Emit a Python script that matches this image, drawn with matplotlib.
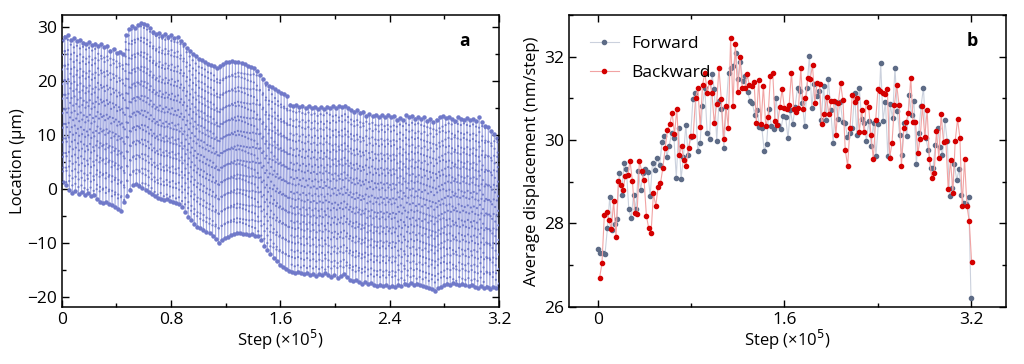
import numpy as np
import matplotlib
matplotlib.use("Agg")
import matplotlib.pyplot as plt
from matplotlib.collections import LineCollection
from matplotlib.ticker import MultipleLocator

plt.rcParams['font.family'] = ['Open Sans', 'DejaVu Sans']
plt.rcParams['font.size'] = 12

# panel a: turning points of each sweep (µm), one top and one bottom per cycle
top_um = [27.5, 28.2, 28.4, 27.6, 27.9, 27.3, 27.6, 27.1, 26.8, 27.2, 26.6, 26.9, 26.5, 26.8, 26.2, 26.5,
          25.6, 25.9, 25.2, 25.4, 24.9, 28.5, 29.6, 30.1, 29.8, 30.4, 30.7, 30.6, 30.3, 29.8, 29.1, 28.6,
          28.9, 28.3, 28.6, 28.2, 28.4, 27.9, 28.1, 27.4, 26.8, 26.1, 25.6, 25.0, 24.6, 24.1, 23.8, 23.5,
          23.2, 22.9, 22.7, 22.4, 22.8, 23.1, 23.4, 23.5, 23.6, 23.4, 23.5, 23.3, 23.1, 22.8, 22.6, 22.4,
          21.8, 21.0, 20.4, 19.6, 19.0, 18.8, 18.4, 18.1, 17.8, 17.6, 17.2, 15.6, 15.3, 15.5, 15.1, 15.4,
          15.0, 15.3, 14.9, 15.2, 14.8, 15.1, 14.7, 15.2, 14.9, 15.3, 15.0, 15.3, 15.1, 15.4, 15.0, 14.6,
          14.3, 14.5, 14.1, 14.3, 13.5, 13.8, 13.4, 13.7, 13.3, 13.6, 13.2, 13.7, 13.3, 13.5, 12.8, 13.1,
          12.7, 13.6, 13.3, 13.5, 13.0, 13.3, 12.9, 13.2, 12.6, 12.9, 12.3, 12.8, 13.2, 13.4, 13.1, 13.3,
          12.9, 12.6, 13.3, 13.0, 12.8, 13.1, 12.7, 12.9, 12.6, 13.2, 12.4, 11.6, 11.4, 10.6, 10.1, 9.4]
bottom_um = [1.2, 0.6, -0.3, -0.8, -0.5, -1.0, -0.7, -1.2, -0.9, -1.4, -1.1, -2.0, -2.4, -2.7, -2.5, -2.9,
             -3.1, -3.4, -3.8, -4.1, -2.5, -1.3, -0.2, 0.6, 0.8, 0.4, 0.1, -0.2, -0.6, -1.0, -1.4, -1.7,
             -1.9, -2.1, -2.0, -2.3, -2.5, -2.6, -2.9, -3.4, -4.4, -5.2, -5.9, -6.5, -7.1, -7.3, -7.6, -8.1,
             -8.3, -8.7, -9.4, -10.1, -9.6, -9.2, -8.9, -8.6, -8.4, -8.2, -8.3, -8.4, -8.5, -8.6, -8.5, -8.7,
             -8.8, -9.6, -10.6, -11.4, -12.2, -12.9, -13.5, -14.1, -14.5, -14.9, -15.2, -15.4, -15.6, -15.4, -15.7, -15.9,
             -15.6, -16.0, -15.8, -16.2, -15.9, -16.1, -15.7, -16.0, -16.3, -16.1, -16.5, -16.2, -15.9, -16.4, -16.9, -17.2,
             -17.0, -17.4, -17.6, -17.3, -17.7, -17.5, -17.9, -18.0, -17.8, -18.1, -17.9, -18.2, -18.0, -18.2, -17.8, -18.1,
             -17.6, -17.9, -17.5, -17.8, -17.6, -17.9, -18.1, -18.3, -18.5, -18.7, -18.9, -18.5, -18.2, -17.9, -17.6, -17.8,
             -17.5, -17.7, -17.9, -17.6, -17.9, -18.1, -17.8, -18.2, -18.4, -18.1, -18.5, -18.3, -18.6, -18.2, -18.4, -17.8]

# panel b: average displacement per sweep (nm/step)
forward = [27.38, 27.30, 27.28, 27.26, 27.88, 28.64, 27.84, 27.98, 28.10, 29.20, 28.67, 29.44, 29.30, 28.35, 28.12,
           28.68, 28.34, 29.26, 28.80, 29.20, 29.30, 29.24, 28.66, 29.46, 29.28, 29.57, 29.40, 29.96, 30.10, 29.60,
           29.86, 30.16, 30.06, 29.10, 30.28, 29.06, 29.60, 30.36, 29.64, 30.08, 30.98, 31.14, 29.74, 29.92, 30.83,
           31.24, 30.16, 30.02, 31.58, 31.22, 29.98, 30.94, 30.74, 29.80, 30.80, 31.62, 31.73, 31.78, 32.10, 31.47,
           31.87, 31.42, 31.54, 31.16, 30.94, 30.90, 30.60, 30.72, 30.32, 30.28, 29.74, 29.90, 30.74, 30.34, 30.26,
           31.02, 30.36, 30.26, 30.58, 30.56, 30.04, 30.72, 30.38, 30.80, 31.26, 31.18, 30.90, 30.35, 31.26, 32.03,
           30.78, 31.34, 31.06, 31.18, 30.48, 31.30, 30.48, 31.47, 30.72, 29.94, 30.92, 30.50, 30.92, 30.44, 30.42,
           30.08, 30.16, 30.28, 31.12, 30.12, 31.26, 30.50, 30.42, 29.98, 30.46, 29.86, 30.42, 29.62, 30.38, 31.84,
           30.46, 30.92, 29.62, 30.86, 30.52, 31.74, 30.70, 30.12, 29.64, 30.42, 30.10, 31.08, 30.60, 30.94, 29.42,
           30.16, 30.82, 31.26, 30.06, 29.76, 29.34, 29.32, 29.88, 30.28, 29.84, 29.64, 30.48, 29.98, 28.66, 28.86,
           29.42, 29.04, 29.30, 28.68, 28.50, 28.46, 28.64, 26.22]
backward = [26.70, 27.04, 28.20, 28.28, 28.08, 27.86, 28.53, 27.68, 29.02, 28.92, 28.80, 29.14, 29.16, 29.50, 29.02,
            28.24, 28.22, 29.50, 29.26, 29.04, 28.18, 27.88, 27.78, 28.72, 28.42, 28.88, 28.96, 29.32, 29.80, 30.24,
            30.38, 30.66, 30.14, 30.74, 29.64, 29.86, 29.52, 29.38, 29.82, 30.10, 30.10, 31.00, 31.24, 30.32, 31.32,
            31.62, 31.14, 31.40, 31.14, 30.40, 30.86, 31.72, 30.98, 30.02, 30.82, 30.30, 32.46, 30.82, 32.30, 31.16,
            32.00, 31.24, 31.24, 31.58, 31.32, 31.30, 31.40, 30.42, 31.44, 30.38, 31.30, 30.34, 30.56, 31.54, 31.62,
            30.46, 30.36, 30.80, 31.22, 30.76, 30.74, 30.84, 31.62, 30.74, 30.68, 30.76, 31.72, 30.74, 31.00, 31.50,
            31.46, 31.80, 30.90, 31.38, 31.34, 30.38, 30.62, 31.04, 30.62, 30.93, 30.94, 30.12, 30.88, 31.36, 30.96,
            29.76, 29.38, 30.28, 31.08, 30.92, 31.00, 30.20, 30.72, 30.20, 30.92, 30.80, 30.12, 29.54, 30.48, 31.22,
            31.18, 31.14, 31.10, 31.22, 29.58, 29.94, 30.84, 31.32, 30.84, 29.38, 30.30, 30.44, 30.64, 31.50, 30.44,
            30.44, 29.68, 30.02, 30.82, 30.08, 30.72, 29.54, 29.08, 29.20, 30.22, 29.56, 30.62, 29.96, 29.98, 28.82,
            29.52, 28.74, 29.98, 30.50, 30.06, 28.42, 29.54, 28.42, 28.06, 27.08]

total_steps = 3.2  # ×10^5

fig = plt.figure(figsize=(10.24, 3.64), dpi=100)

# ---- panel a ----
ax1 = fig.add_axes([0.0603, 0.1558, 0.427, 0.803])
n = len(top_um)
turn = np.empty(2 * n)
turn[0::2] = top_um
turn[1::2] = bottom_um
x_turn = np.linspace(0, total_steps, 2 * n)
ax1.plot(x_turn, turn, color='#a3aae2', lw=0.8, marker='o', ms=2.2,
         mfc='#7079c9', mec='#7079c9', zorder=2)
# sampled points along each sweep drawn as a dotted style from its start point
segs = [[(x_turn[i], turn[i]), (x_turn[i + 1], turn[i + 1])] for i in range(2 * n - 1)]
lc = LineCollection(segs, colors='#7079c9', linewidths=1.6,
                    linestyles=[(0, (0.05, 6.5))], capstyle='round', zorder=3)
ax1.add_collection(lc)
ax1.set_xlim(0, 3.2)
ax1.set_ylim(-22, 32.2)
ax1.xaxis.set_major_locator(MultipleLocator(0.8))
ax1.xaxis.set_minor_locator(MultipleLocator(0.4))
ax1.yaxis.set_major_locator(MultipleLocator(10))
ax1.yaxis.set_minor_locator(MultipleLocator(5))
ax1.xaxis.set_major_formatter(plt.FuncFormatter(lambda v, p: f"{v:g}"))
ax1.set_xlabel("Step (×10$^5$)", labelpad=0)
ax1.set_ylabel("Location (µm)", labelpad=1)
ax1.text(0.91, 0.895, "a", transform=ax1.transAxes, fontweight='bold', fontsize=12.5)

# ---- panel b ----
ax2 = fig.add_axes([0.5554, 0.1574, 0.427, 0.801])
x_f = np.linspace(0, total_steps, len(forward))
x_b = np.linspace(0.015, total_steps + 0.005, len(backward))
ax2.plot(x_f, forward, color='#cbd1dd', lw=0.8, marker='o', ms=3,
         mfc='#5d6b86', mec='#5d6b86', label='Forward', zorder=2)
ax2.plot(x_b, backward, color='#f1a3a3', lw=0.8, marker='o', ms=3,
         mfc='#d40000', mec='#d40000', label='Backward', zorder=3)
ax2.set_xlim(-0.25, 3.5)
ax2.set_ylim(26, 33)
ax2.xaxis.set_major_locator(MultipleLocator(1.6))
ax2.xaxis.set_minor_locator(MultipleLocator(0.8))
ax2.yaxis.set_major_locator(MultipleLocator(2))
ax2.yaxis.set_minor_locator(MultipleLocator(1))
ax2.xaxis.set_major_formatter(plt.FuncFormatter(lambda v, p: f"{v:g}"))
ax2.set_xlabel("Step (×10$^5$)", labelpad=0)
ax2.set_ylabel("Average displacement (nm/step)", labelpad=3)
ax2.text(0.91, 0.895, "b", transform=ax2.transAxes, fontweight='bold', fontsize=13)
ax2.legend(loc='upper left', frameon=False, fontsize=12.5, handlelength=1.7,
           borderaxespad=0.9, labelspacing=0.75, handletextpad=0.7, borderpad=0.3)

for ax in (ax1, ax2):
    ax.tick_params(which='both', direction='in', top=True, right=True, labelsize=12.5)
    ax.tick_params(which='major', length=5, width=1)
    ax.tick_params(which='minor', length=3, width=1)
    for s in ax.spines.values():
        s.set_linewidth(1.1)

fig.savefig("out.png", dpi=100)
